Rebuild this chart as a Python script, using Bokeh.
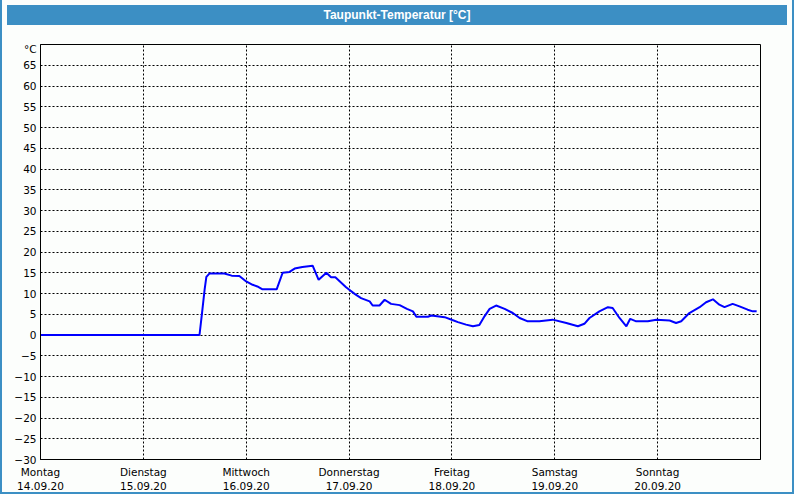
from bokeh.plotting import figure
from bokeh.models import Range1d, FixedTicker, LinearAxis, Div
from bokeh.layouts import column
from bokeh.embed import file_html
from bokeh.resources import INLINE

# ---- data -------------------------------------------------------------
title_text = "Taupunkt-Temperatur [°C]"
day_names = ["Montag", "Dienstag", "Mittwoch", "Donnerstag", "Freitag", "Samstag", "Sonntag"]
day_dates = ["14.09.20", "15.09.20", "16.09.20", "17.09.20", "18.09.20", "19.09.20", "20.09.20"]
day_hours = [0, 24, 48, 72, 96, 120, 144]
y_ticks = [-30, -25, -20, -15, -10, -5, 0, 5, 10, 15, 20, 25, 30, 35, 40, 45, 50, 55, 60, 65]
y_unit = "°C"
y_unit_pos = 69

# hours since Monday 14.09.20 00:00
hours = [0.0, 37.1, 37.6, 38.3, 38.7, 39.4, 42.9, 44.6, 46.4, 48.0, 49.5, 50.6, 51.8,
         55.1, 56.5, 58.1, 59.3, 61.1, 63.5, 64.9, 66.7, 67.8, 68.8, 71.3, 73.3, 74.8,
         76.8, 77.5, 79.1, 80.3, 81.8, 83.8, 85.5, 86.9, 87.7, 90.4, 91.2, 94.3, 96.1,
         97.4, 99.3, 100.9, 102.4, 103.6, 104.8, 106.3, 108.3, 110.2, 111.8, 113.7,
         116.4, 119.5, 122.7, 125.4, 126.9, 128.1, 130.4, 132.4, 133.5, 135.1, 136.7,
         137.6, 139.0, 141.7, 143.7, 146.8, 148.3, 149.5, 151.4, 153.8, 155.3, 156.9,
         158.4, 159.6, 161.5, 163.1, 165.0, 166.2, 167.1]
dewpoint = [0.0, 0.0, 4.5, 11.0, 14.0, 14.8, 14.8, 14.3, 14.2, 12.9, 12.1, 11.7, 11.0,
            11.0, 15.0, 15.2, 16.0, 16.4, 16.7, 13.3, 15.0, 13.9, 13.9, 11.5, 9.9, 8.9,
            8.1, 7.1, 7.1, 8.5, 7.5, 7.2, 6.3, 5.7, 4.4, 4.4, 4.7, 4.3, 3.6,
            3.1, 2.5, 2.1, 2.4, 4.5, 6.3, 7.1, 6.3, 5.3, 4.1, 3.3,
            3.3, 3.7, 2.9, 2.1, 2.7, 4.1, 5.7, 6.7, 6.5, 4.1, 2.1,
            3.9, 3.3, 3.3, 3.7, 3.5, 2.9, 3.3, 5.3, 6.7, 7.9, 8.6,
            7.3, 6.7, 7.5, 6.9, 6.1, 5.7, 5.7]

# ---- styling ----------------------------------------------------------
BG = "#fcfefc"
BLUE_BAR = "#3c8fc4"
FONT = "DejaVu Sans"
FS = "10.5px"

title_div = Div(text=title_text, width=780, height=20,
                styles={"background-color": BLUE_BAR, "color": "white",
                        "font-weight": "bold", "text-align": "center",
                        "font-family": "Liberation Sans", "font-size": "12px",
                        "line-height": "20px"})

p = figure(width=780, height=462, output_backend="svg", toolbar_location=None,
           x_range=Range1d(0, 168), y_range=Range1d(-30, 70),
           min_border_left=38, min_border_right=22, min_border_top=14, min_border_bottom=32,
           background_fill_color=BG, border_fill_color=BG)
p.outline_line_color = "black"
p.outline_line_width = 1

p.line(hours, dewpoint, line_color="#0000ff", line_width=2)

# grid
p.xgrid.ticker = FixedTicker(ticks=day_hours[1:])
p.ygrid.ticker = FixedTicker(ticks=y_ticks[1:])
for g in (p.xgrid, p.ygrid):
    g.grid_line_color = "black"
    g.grid_line_dash = "2 2"
    g.grid_line_width = 1

# y axis (unit shown as top tick label)
ya = p.yaxis[0]
ya.ticker = FixedTicker(ticks=y_ticks + [y_unit_pos])
ya.major_label_overrides = {y_unit_pos: y_unit}
ya.major_tick_out = 0
ya.major_tick_in = 0
ya.minor_tick_line_color = None
ya.axis_line_color = "black"
ya.major_label_standoff = 4
ya.major_label_text_font = FONT
ya.major_label_text_font_size = FS
ya.major_label_text_color = "black"

# x axis: day names
xa = p.xaxis[0]
xa.ticker = FixedTicker(ticks=day_hours)
xa.major_label_overrides = {h: n for h, n in zip(day_hours, day_names)}
xa.major_tick_out = 0
xa.major_tick_in = 0
xa.minor_tick_line_color = None
xa.axis_line_color = "black"
xa.major_label_standoff = 6
xa.major_label_text_font = FONT
xa.major_label_text_font_size = FS
xa.major_label_text_color = "black"

# x axis: dates
xb = LinearAxis(ticker=FixedTicker(ticks=day_hours),
                major_label_overrides={h: d for h, d in zip(day_hours, day_dates)})
xb.axis_line_color = None
xb.major_tick_line_color = None
xb.major_tick_out = 0
xb.major_tick_in = 0
xb.minor_tick_line_color = None
xb.major_label_standoff = 1
xb.major_label_text_font = FONT
xb.major_label_text_font_size = FS
xb.major_label_text_color = "black"
p.add_layout(xb, "below")

layout = column(title_div, p, spacing=0,
                styles={"border-left": "2px solid " + BLUE_BAR,
                        "border-right": "2px solid " + BLUE_BAR,
                        "border-bottom": "2px solid " + BLUE_BAR,
                        "background-color": BG})

open("out.html", "w").write(file_html(layout, INLINE))
